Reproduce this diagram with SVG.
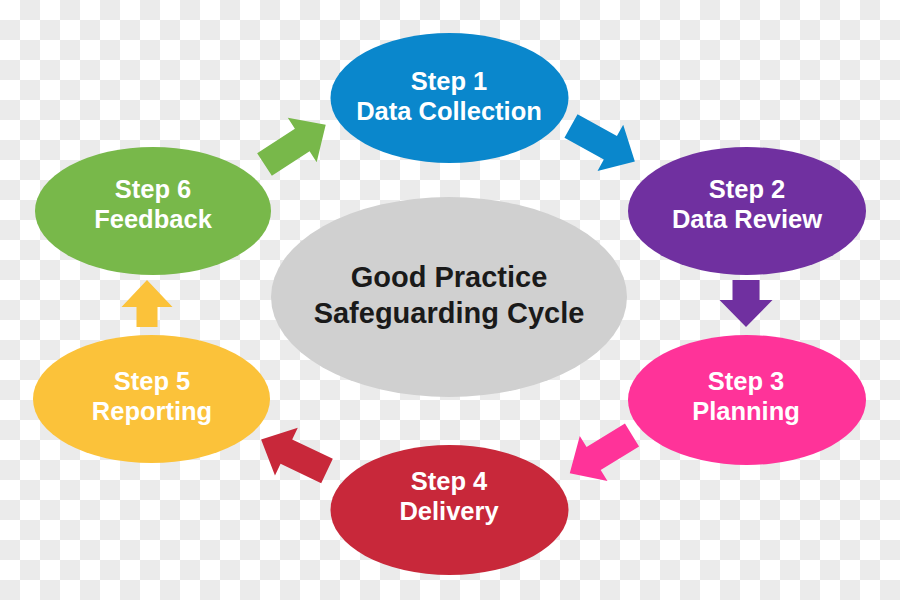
<svg xmlns="http://www.w3.org/2000/svg" width="900" height="600" viewBox="0 0 900 600">
<defs>
<pattern id="checker" x="0" y="0" width="40" height="40" patternUnits="userSpaceOnUse">
<rect width="40" height="40" fill="#ffffff"/>
<rect x="20" y="0" width="20" height="20" fill="#ebebeb"/>
<rect x="0" y="20" width="20" height="20" fill="#ebebeb"/>
</pattern>
<polygon id="arrowLong" points="0,-13.5 45,-13.5 45,-26.5 73,0 45,26.5 45,13.5 0,13.5"/>
<polygon id="arrowShort" points="0,-13.5 20,-13.5 20,-26.5 47,0 20,26.5 20,13.5 0,13.5"/>
<polygon id="arrowShortThin" points="0,-10.5 20,-10.5 20,-25.5 47,0 20,25.5 20,10.5 0,10.5"/>
</defs>
<style>
.step { font-family: "Liberation Sans", Arial, sans-serif; font-weight: bold; font-size: 25.5px; fill: #ffffff; text-anchor: middle; }
.center { font-family: "Liberation Sans", Arial, sans-serif; font-weight: bold; font-size: 29px; fill: #1a1a1a; text-anchor: middle; }
</style>
<rect width="900" height="600" fill="url(#checker)"/>
<g id="connectors">
<use href="#arrowLong" fill="#0a87cc" transform="translate(571,126) rotate(29)"/>
<use href="#arrowShort" fill="#7030a0" transform="translate(746,280) rotate(90)"/>
<use href="#arrowLong" fill="#ff3399" transform="translate(632,435) rotate(148.5)"/>
<use href="#arrowLong" fill="#c8283a" transform="translate(327,471) rotate(205.5)"/>
<use href="#arrowShortThin" fill="#fbc23a" transform="translate(147,327) rotate(-90)"/>
<use href="#arrowLong" fill="#78b84a" transform="translate(264.5,164.5) rotate(-33)"/>
</g>
<g id="center">
<ellipse cx="449" cy="297" rx="178" ry="100" fill="#d0d0d0"/>
<text class="center" x="449" y="287">Good Practice</text>
<text class="center" x="449" y="323">Safeguarding Cycle</text>
</g>
<g id="step1">
<ellipse cx="449.5" cy="98" rx="119" ry="65" fill="#0a87cc"/>
<text class="step" x="449" y="90">Step 1</text>
<text class="step" x="449" y="120">Data Collection</text>
</g>
<g id="step2">
<ellipse cx="747" cy="211" rx="119" ry="64" fill="#7030a0"/>
<text class="step" x="747" y="198">Step 2</text>
<text class="step" x="747" y="228">Data Review</text>
</g>
<g id="step3">
<ellipse cx="747" cy="400" rx="119" ry="65" fill="#ff3399"/>
<text class="step" x="746" y="390">Step 3</text>
<text class="step" x="746" y="420">Planning</text>
</g>
<g id="step4">
<ellipse cx="449.5" cy="510" rx="119" ry="65" fill="#c8283a"/>
<text class="step" x="449" y="490">Step 4</text>
<text class="step" x="449" y="520">Delivery</text>
</g>
<g id="step5">
<ellipse cx="151.5" cy="399" rx="118.5" ry="64" fill="#fbc23a"/>
<text class="step" x="152" y="390">Step 5</text>
<text class="step" x="152" y="420">Reporting</text>
</g>
<g id="step6">
<ellipse cx="153" cy="211" rx="118" ry="64" fill="#78b84a"/>
<text class="step" x="153" y="198">Step 6</text>
<text class="step" x="153" y="228">Feedback</text>
</g>
</svg>
